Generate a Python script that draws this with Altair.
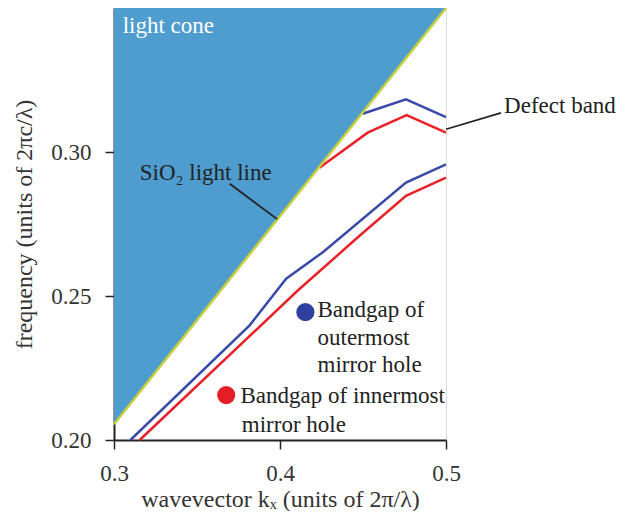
import altair as alt
import pandas as pd

# ---- data ----
light_k = [0.3, 0.5]
light_f = [0.2055, 0.35]

blue_up_k = [0.4498, 0.4759, 0.5]
blue_up_f = [0.3133, 0.3183, 0.3121]

red_up_k = [0.4238, 0.4528, 0.4763, 0.5]
red_up_f = [0.2945, 0.3067, 0.3128, 0.3067]

blue_lo_k = [0.3099, 0.3817, 0.4037, 0.4258, 0.4759, 0.5]
blue_lo_f = [0.200, 0.2398, 0.2560, 0.2652, 0.2894, 0.2957]

red_lo_k = [0.3155, 0.4107, 0.4479, 0.4759, 0.5]
red_lo_f = [0.200, 0.2519, 0.2709, 0.2848, 0.2911]

x_ticks = [0.3, 0.4, 0.5]
y_ticks = [0.20, 0.25, 0.30]

legend_k = [0.4153, 0.3676]
legend_f = [0.2444, 0.2156]
legend_color = ["#2e3f9e", "#e41e26"]

label_text = ["Bandgap of", "outermost", "mirror hole", "Bandgap of innermost", "mirror hole"]
label_k = [0.4226, 0.4226, 0.4226, 0.3762, 0.3770]
label_f = [0.2450, 0.2355, 0.2260, 0.2152, 0.2052]

FONT = "Liberation Serif"
XD = [0.3, 0.5]
YD = [0.20, 0.35]

xs = alt.Scale(domain=XD, nice=False, zero=False)
ys = alt.Scale(domain=YD, nice=False, zero=False)

xaxis = alt.Axis(values=x_ticks, format=".1f", title="wavevector kₓ (units of 2π/λ)",
                 grid=False, tickSize=9, tickWidth=1.5, tickColor="#222",
                 domainColor="#222", domainWidth=2, labelFont=FONT, labelFontSize=23,
                 labelColor="#333", labelPadding=13, labelFlush=False,
                 titleFont=FONT, titleFontSize=24,
                 titleFontWeight="normal", titleColor="#333", titlePadding=2)
yaxis = alt.Axis(values=y_ticks, format=".2f", title="frequency (units of 2πc/λ)",
                 grid=False, tickSize=9, tickWidth=1.5, tickColor="#222",
                 domainColor="#222", domainWidth=2, labelFont=FONT, labelFontSize=23,
                 labelColor="#333", labelPadding=14, labelFlush=False,
                 titleFont=FONT, titleFontSize=24,
                 titleFontWeight="normal", titleColor="#333", titlePadding=14)

light_df = pd.DataFrame({"k": light_k, "f": light_f, "top": [YD[1]] * len(light_k)})

cone = alt.Chart(light_df).mark_area(color="#4f9ccf", opacity=1).encode(
    x=alt.X("k:Q", scale=xs, axis=xaxis),
    y=alt.Y("f:Q", scale=ys, axis=yaxis),
    y2="top:Q",
)

def band(k, f, color):
    df = pd.DataFrame({"k": k, "f": f})
    return alt.Chart(df).mark_line(color=color, strokeWidth=2.5).encode(
        x=alt.X("k:Q", scale=xs), y=alt.Y("f:Q", scale=ys))

b1 = band(blue_up_k, blue_up_f, "#3a4aa8")
r1 = band(red_up_k, red_up_f, "#e8222b")
b2 = band(blue_lo_k, blue_lo_f, "#3a4aa8")
r2 = band(red_lo_k, red_lo_f, "#e8222b")

lightline = alt.Chart(light_df).mark_line(color="#c5cf3c", strokeWidth=2.5).encode(
    x=alt.X("k:Q", scale=xs), y=alt.Y("f:Q", scale=ys))

dots_df = pd.DataFrame({"k": legend_k, "f": legend_f, "c": legend_color})
dots = alt.Chart(dots_df).mark_circle(size=330, opacity=1).encode(
    x=alt.X("k:Q", scale=xs), y=alt.Y("f:Q", scale=ys),
    color=alt.Color("c:N", scale=None))

lab_df = pd.DataFrame({"k": label_k, "f": label_f, "t": label_text})
labels = alt.Chart(lab_df).mark_text(align="left", baseline="middle", font=FONT,
                                     fontSize=23, color="#222").encode(
    x=alt.X("k:Q", scale=xs), y=alt.Y("f:Q", scale=ys), text="t:N")

# annotations
ann_df = pd.DataFrame({
    "k": [0.3052, 0.3155, 0.535],
    "f": [0.3436, 0.2928, 0.3159],
    "t": ["light cone", "SiO₂ light line", "Defect band"],
    "c": ["#ffffff", "#222222", "#222222"],
})
ann = alt.Chart(ann_df).mark_text(align="left", baseline="middle", font=FONT,
                                  fontSize=23).encode(
    x=alt.X("k:Q", scale=xs), y=alt.Y("f:Q", scale=ys), text="t:N",
    color=alt.Color("c:N", scale=None))

ptr_df = pd.DataFrame({
    "k": [0.3697, 0.5], "f": [0.2890, 0.3079],
    "k2": [0.3983, 0.5331], "f2": [0.2767, 0.3136],
})
ptr = alt.Chart(ptr_df).mark_rule(color="#222", strokeWidth=1.8).encode(
    x=alt.X("k:Q", scale=xs), y=alt.Y("f:Q", scale=ys),
    x2="k2:Q", y2="f2:Q")

chart = alt.layer(cone, b1, r1, b2, r2, lightline, dots, labels, ann, ptr).properties(
    width=332, height=432,
    autosize=alt.AutoSizeParams(type="none"),
    padding={"left": 106, "top": 0, "right": 176, "bottom": 71},
).configure_view(stroke="#222", strokeWidth=2).configure(background="white")

chart.save("out.html", embed_options={"renderer": "svg", "actions": False})
